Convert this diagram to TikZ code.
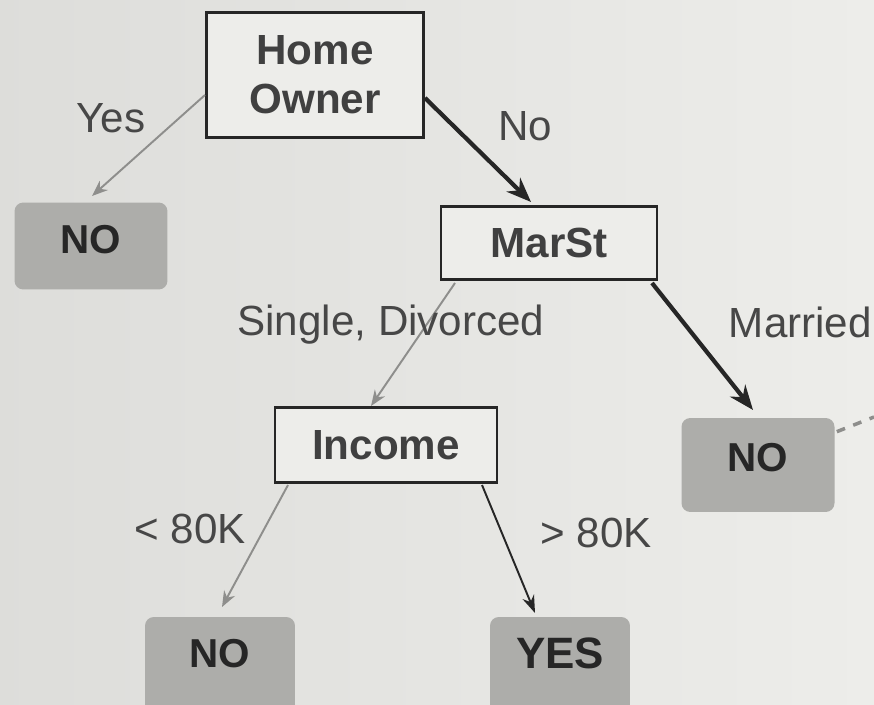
\documentclass[tikz,border=0pt]{standalone}
\usepackage{fontspec}
\setmainfont{Liberation Sans}
\usetikzlibrary{arrows.meta}
\definecolor{paper}{HTML}{E4E4E1}
\definecolor{paperlight}{HTML}{EDEDEA}
\definecolor{ink}{HTML}{262626}
\definecolor{leafgray}{HTML}{ADADAA}
\definecolor{edgegray}{HTML}{8E8E8C}
\tikzset{
  testbox/.style={draw=ink, line width=1.6pt, fill=paperlight, inner sep=0pt,
    minimum width=#1, minimum height=1.45cm, align=center, text=ink!88,
    font=\fontsize{24}{28}\selectfont\bfseries},
  testbox/.default=4.3cm,
  leafbox/.style={fill=leafgray, rounded corners=5pt, inner sep=0pt,
    minimum width=3cm, minimum height=1.8cm, text=ink,
    font=\fontsize{23}{27}\selectfont\bfseries},
  edgelabel/.style={text=ink!85, font=\fontsize{24}{28}\selectfont},
  weakedge/.style={draw=edgegray, line width=1.1pt, -{Stealth[length=9pt,width=7pt]}},
  midedge/.style={draw=ink, line width=1.1pt, -{Stealth[length=10pt,width=7pt]}},
  strongedge/.style={draw=ink, line width=2.4pt, -{Stealth[length=14pt,width=11pt]}},
}
\begin{document}
\begin{tikzpicture}[x=0.02cm, y=-0.02cm]
  % page
  \fill[left color=paper!97!black, right color=paperlight] (0,0) rectangle (874,705);
  \useasboundingbox (0,0) rectangle (874,705);

  % test nodes
  \node[testbox=4.34cm, minimum height=2.5cm] (home) at (315,75) {Home\\Owner};
  \node[testbox=4.32cm] (marst) at (549,243) {MarSt};
  \node[testbox=4.44cm, minimum height=1.5cm] (income) at (386,445) {Income};

  % leaves
  \node[leafbox, minimum width=3.06cm, minimum height=1.74cm] (leafA) at (91,246) {\raisebox{8pt}{NO}};
  \node[leafbox, minimum width=3.06cm, minimum height=1.88cm] (leafB) at (758,465) {\raisebox{9pt}{NO}};
  \node[leafbox, minimum width=3cm, minimum height=2.2cm] (leafC) at (220,672) {\raisebox{21pt}{NO}};
  \node[leafbox, minimum width=2.8cm, minimum height=2.2cm] (leafD) at (560,672) {\raisebox{21pt}{\fontsize{25}{28}\selectfont YES}};

  % branch ends
  \coordinate (homeL) at (205,95);
  \coordinate (homeR) at (425,98);
  \coordinate (marL) at (455,283);
  \coordinate (marR) at (652,283);
  \coordinate (incL) at (288,485);
  \coordinate (incR) at (482,485);
  \coordinate (leafAtop) at (92,196);
  \coordinate (marTop) at (531,202);
  \coordinate (incTop) at (371,406);
  \coordinate (leafBtop) at (753,410);
  \coordinate (leafCtop) at (222,607);
  \coordinate (leafDtop) at (535,613);
  \coordinate (offR) at (874,417);

  % branches
  \draw[weakedge] (homeL) -- (leafAtop);
  \draw[strongedge] (homeR) -- (marTop);
  \draw[weakedge] (marL) -- (incTop);
  \draw[strongedge] (marR) -- (leafBtop);
  \draw[weakedge] (incL) -- (leafCtop);
  \draw[midedge] (incR) -- (leafDtop);
  \draw[edgegray, line width=2pt, dash pattern=on 5pt off 5pt] (leafB.north east) ++(2,14) -- (offR);

  % branch labels
  \node[edgelabel] (lYes) at (111,118) {Yes};
  \node[edgelabel] (lNo) at (525,126) {No};
  \node[edgelabel] (lSingle) at (391,325) {Single, Divorced};
  \node[edgelabel, anchor=east, inner sep=1pt] (lMarried) at (874,322) {Married};
  \node[edgelabel] (lLow) at (190,529) {< 80K};
  \node[edgelabel] (lHigh) at (596,533) {> 80K};
\end{tikzpicture}
\end{document}
